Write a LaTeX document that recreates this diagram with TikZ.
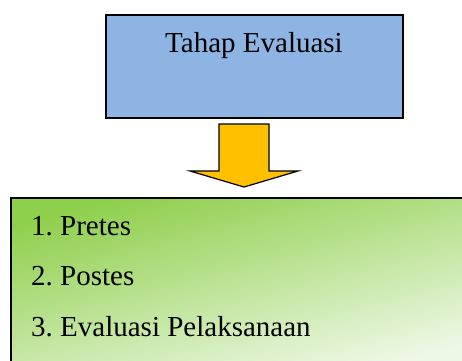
\documentclass[tikz,border=0pt]{standalone}
\usepackage{fontspec}
\setmainfont{Liberation Serif}
\usetikzlibrary{positioning}

\definecolor{birumuda}{HTML}{8EB4E3}
\definecolor{hijautua}{HTML}{8ECF4B}
\definecolor{hijaumuda}{HTML}{EEF8E6}
\definecolor{kuning}{HTML}{FFC000}

\begin{document}
\begin{tikzpicture}[x=1pt,y=-1pt,
  kotak/.style={draw,line width=2pt,inner sep=0pt},
  teks/.style={anchor=base west,inner sep=0pt,font=\fontsize{29}{35}\selectfont\frenchspacing}]
  \useasboundingbox (0,0) rectangle (462,360);
  \clip (0,0) rectangle (462,360);
  \node[kotak,fill=birumuda,minimum width=297pt,minimum height=103pt,anchor=north west](tahap) at (105,14){};
  \node[teks,anchor=base](judul) at (254,52){Tahap Evaluasi};
  \node[kotak,anchor=north west,minimum width=462pt,minimum height=170pt,
    top color=hijautua,bottom color=hijaumuda,shading angle=14](daftar) at (10,197){};
  \node[teks](pretes) at (31,235){1. Pretes};
  \node[teks,below=50.5pt of pretes.base west,anchor=base west](postes){2. Postes};
  \node[teks,below=50.5pt of postes.base west,anchor=base west](evaluasi){3. Evaluasi Pelaksanaan};
  % panah ke bawah
  \coordinate (p) at (244,124);
  \draw[fill=kuning,line width=1.2pt,line join=miter]
    (p) ++(-25,0) -- ++(50,0) -- ++(0,47) -- ++(29,0) -- (244,187) -- (190,171) -- (219,171) -- cycle;
\end{tikzpicture}
\end{document}
